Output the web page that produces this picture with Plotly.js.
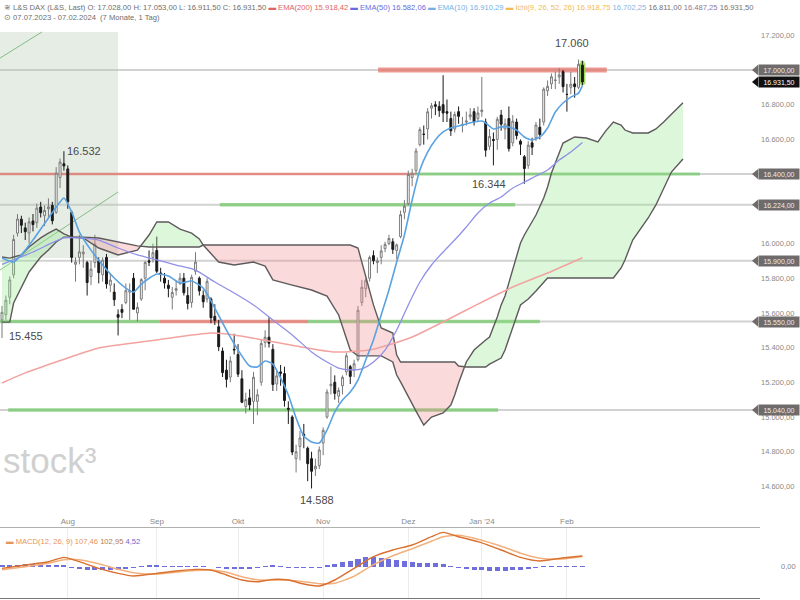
<!DOCTYPE html>
<html><head><meta charset="utf-8">
<script src="https://cdn.plot.ly/plotly-3.0.1.min.js"></script>
<style>html,body{margin:0;padding:0;background:#fff}#chart{width:800px;height:600px}</style>
</head><body><div id="chart"></div>
<script>
// ---------- DATA ----------
const monthIdx = [17, 40, 61, 83, 105, 124, 146];
const monthLabels = ['Aug', 'Sep', 'Okt', 'Nov', 'Dez', "Jan '24", 'Feb'];
const priceTicks = [14400, 14600, 14800, 15000, 15200, 15400, 15600, 15800, 16000, 16200, 16400, 16600, 16800, 17000, 17200, 17400];
const levels = [17000, 16400, 16224, 15900, 15550, 15040];

const openP = [15560,15590,15690,15820,16060,16140,16090,16060,16130,16120,
16210,16160,16200,16220,16180,16380,16460,16430,16180,15880,
15920,15940,15890,15810,15890,15900,15820,15920,15760,15720,
15590,15620,15660,15720,15800,15600,15680,15800,15900,15920,
15960,15830,15800,15760,15690,15730,15770,15800,15700,15660,
15840,15800,15700,15680,15680,15580,15520,15380,15270,15230,
15390,15360,15220,15060,15110,15090,15090,15200,15430,15460,
15390,15190,15260,15250,15050,15000,14760,14830,14900,14820,
14760,14700,14720,14850,15000,15180,15200,15120,15180,15260,
15290,15270,15330,15660,15740,15800,15930,15890,15920,15970,
16000,16010,15960,16040,16180,16230,16380,16420,16570,16630,
16660,16780,16800,16790,16800,16760,16720,16660,16760,16680,
16700,16730,16760,16720,16760,16700,16560,16600,16600,16740,
16660,16720,16580,16700,16590,16500,16450,16580,16610,16670,
16700,16880,16920,16940,16960,16990,16860,16900,16920,16900,
17028];
const highP = [15640,15700,15810,16050,16170,16160,16120,16150,16170,16230,
16240,16220,16260,16240,16440,16490,16532,16450,16190,15920,
16050,15990,15900,15900,16050,15920,15920,15940,15830,15770,
15620,15650,15770,15770,15830,15660,15800,15900,15960,16000,
16040,15860,15830,15790,15750,15790,15830,15830,15750,15820,
15950,15810,15730,15800,15690,15650,15560,15400,15330,15350,
15480,15420,15270,15140,15160,15260,15160,15450,15500,15575,
15420,15270,15300,15290,15090,15010,14840,14920,14960,14830,
14800,14760,14830,14940,15160,15290,15240,15170,15240,15370,
15300,15330,15640,15790,15800,15930,15960,15920,15990,16010,
16050,16030,16000,16190,16250,16420,16430,16550,16670,16680,
16780,16810,16820,16820,16970,16830,16760,16760,16790,16730,
16760,16780,16780,16790,16960,16720,16660,16640,16730,16770,
16720,16790,16740,16720,16600,16510,16590,16610,16700,16720,
16900,16940,16980,16990,17010,17000,16920,16990,16960,17060,
17053];
const lowP = [15455,15560,15650,15800,16040,16060,16020,16000,16070,16090,
16150,16100,16150,16110,16170,16320,16420,16200,15890,15780,
15880,15860,15700,15760,15860,15770,15780,15740,15720,15640,
15470,15570,15650,15560,15620,15550,15670,15730,15870,15890,
15830,15780,15740,15690,15620,15700,15760,15700,15620,15630,
15820,15700,15630,15660,15540,15530,15380,15230,15170,15200,
15360,15230,15080,15020,15040,14960,15010,15180,15400,15400,
15150,15150,15180,15060,14960,14780,14680,14750,14820,14630,
14588,14660,14700,14780,14990,15130,15100,15080,15130,15240,
15190,15230,15320,15640,15690,15780,15880,15830,15880,15950,
15990,15940,15910,16030,16140,16220,16330,16400,16560,16570,
16600,16720,16740,16730,16700,16700,16620,16640,16690,16640,
16680,16710,16680,16700,16730,16500,16540,16450,16540,16650,
16600,16530,16560,16600,16510,16344,16430,16510,16590,16600,
16680,16850,16890,16890,16920,16870,16760,16860,16840,16890,
16911.5];
const closeP = [15603,15673,15790,16023,16141,16105,16068,16125,16109,16204,
16177,16191,16211,16131,16406,16469,16447,16240,15920,15893,
15952,15950,15775,15852,15996,15832,15904,15767,15789,15676,
15575,15603,15728,15729,15621,15632,15792,15891,15892,15947,
15840,15825,15772,15741,15718,15740,15800,15716,15654,15805,
15893,15727,15664,15782,15572,15557,15405,15256,15217,15323,
15387,15247,15085,15100,15070,15229,15128,15424,15460,15425,
15187,15237,15252,15095,15045,14798,14800,14879,14892,14731,
14687,14716,14810,14923,15144,15189,15136,15153,15229,15353,
15234,15307,15615,15748,15786,15919,15901,15900,15957,15995,
16029,15966,15992,16166,16215,16398,16405,16533,16656,16629,
16759,16794,16791,16766,16752,16751,16650,16744,16733,16687,
16706,16742,16701,16752,16769,16538,16617,16594,16716,16688,
16689,16547,16705,16622,16572,16432,16567,16555,16683,16628,
16890,16906,16961,16942,16972,16904,16859,16918,16904,17033,
16931.5];

const ema10Idx = [0,3,5,8,12,15,16,18,20,23,26,29,32,34,36,40,43,46,49,52,55,58,61,64,66,68,70,72,74,76,78,80,82,84,86,88,90,92,94,96,98,100,102,104,106,108,110,112,114,116,118,120,122,124,125,127,129,131,133,135,137,139,141,143,145,147,149,150];
const ema10 = [15916,15893,15934,16020,16147,16239,16262,16182,16066,15962,15876,15801,15743,15720,15766,15824,15813,15772,15784,15743,15628,15501,15386,15294,15288,15323,15305,15225,15127,14994,14890,14856,14850,14925,15029,15098,15144,15213,15328,15444,15588,15732,15893,16049,16251,16424,16527,16597,16643,16666,16677,16689,16700,16706,16695,16660,16672,16672,16654,16614,16597,16614,16666,16758,16810,16844,16867,16910];

const ema50Idx = [0,8,16,20,25,30,35,40,45,50,55,60,65,70,75,80,84,87,90,93,96,99,102,105,108,111,114,117,120,123,126,129,132,135,138,141,144,147,150];
const ema50 = [15880,15951,16032,16032,16020,15974,15934,15905,15876,15847,15778,15715,15646,15559,15473,15375,15317,15282,15271,15277,15317,15386,15501,15646,15778,15876,15951,16020,16095,16176,16233,16268,16320,16354,16389,16424,16481,16527,16582];

const ema200Idx = [0,6,17,25,40,54,60,66,76,86,95,99,106,115,123,132,141,150];
const ema200 = [15196,15254,15340,15398,15444,15484,15473,15450,15409,15375,15386,15409,15461,15559,15651,15749,15830,15918];

const cloudIdx = [0,2,3,5,7,10,12,14,16,18,21,25,30,35,38,40,43,46,49,51,52,56,60,65,68,70,74,80,84,87,90,92,93,95,96,98,101,102,103,105,107,109,111,114,116,117,118,120,122,125,126,128,129,130,132,134,135,136,138,140,141,142,145,148,151,154,156,158,160,161,163,167,169,171,173,176];
const spanA = [15922,15916,15922,15934,15980,16032,16060,16083,16055,16037,16032,15974,15934,15962,16049,16124,16124,16083,16060,16026,15991,15893,15876,15893,15870,15790,15766,15732,15697,15588,15386,15352,15352,15352,15352,15352,15317,15242,15202,15115,15034,14954,15000,15023,15069,15127,15196,15317,15386,15444,15461,15576,15646,15697,15847,16003,16049,16089,16164,16262,16326,16406,16579,16614,16608,16585,16648,16700,16683,16654,16637,16637,16660,16700,16746,16811];
const spanB = [15547,15547,15657,15743,15836,15922,15962,16009,16037,16037,16037,16032,16009,15986,15980,15980,15980,15980,15980,15980,15991,15991,15991,15991,15991,15991,15991,15991,15991,15991,15991,15974,15893,15732,15646,15513,15484,15357,15317,15317,15317,15317,15317,15317,15317,15317,15294,15288,15288,15288,15305,15328,15340,15386,15519,15646,15663,15680,15726,15778,15801,15801,15801,15801,15801,15801,15801,15801,15859,15905,16020,16147,16222,16320,16412,16487];

const macdIdx = [0,6,12,16,20,25,30,34,40,45,50,54,58,62,66,70,74,78,82,86,91,96,101,106,111,114,118,123,129,134,139,144,150];
const macdLine = [-17,17,50,93,50,-17,-67,-93,-67,-43,-27,-33,-83,-133,-150,-127,-133,-173,-193,-133,-17,100,167,217,300,343,300,250,167,93,57,83,107];
const signalLine = [-30,0,35,70,70,30,-25,-60,-75,-55,-38,-33,-55,-100,-130,-135,-133,-150,-170,-165,-95,20,110,180,255,300,315,275,205,135,85,75,103];
const histIdx = [0,2,4,6,8,10,12,14,16,18,20,22,24,26,28,30,32,34,36,38,40,42,44,46,48,50,52,54,56,58,60,62,64,66,68,70,72,74,76,78,80,82,84,86,88,90,92,94,96,98,100,102,104,106,108,110,112,114,116,118,120,122,124,126,128,130,132,134,136,138,140,142,144,146,148,150];
const histVals = [15,20,22,25,25,22,20,22,18,-10,-25,-30,-35,-35,-30,-28,-22,-10,10,15,15,12,5,5,8,6,3,-5,-15,-22,-25,-25,-20,-10,10,15,8,-8,-12,-15,-15,-8,15,30,45,60,80,95,100,90,75,65,55,45,40,40,38,30,5,-15,-25,-30,-35,-42,-40,-38,-35,-30,-25,-15,5,12,10,8,6,5];

// ---------- HELPERS ----------
function de(v, dec) {
  const s = v.toFixed(dec);
  const parts = s.split('.');
  const intS = parts[0].replace(/\B(?=(\d{3})+(?!\d))/g, '.');
  return parts.length > 1 ? intS + ',' + parts[1] : intS;
}
function argmax(arr, a, b) { let k = a; for (let i = a; i <= b; i++) if (arr[i] > arr[k]) k = i; return k; }
function argmin(arr, a, b) { let k = a; for (let i = a; i <= b; i++) if (arr[i] < arr[k]) k = i; return k; }

const N = closeP.length;
const dayIdx = closeP.map((_, i) => i);
const FONT = 'Liberation Sans, Arial, sans-serif';

// tick labels hidden behind the price tags at the right
const shownTicks = priceTicks.filter(v => levels.every(l => Math.abs(v - l) >= 40));

// cloud polygons split where spans cross
function cloudPolys(xs, a, b) {
  const polys = []; let cur = null;
  for (let k = 0; k < xs.length; k++) {
    const d = a[k] - b[k]; const s = d >= 0 ? 1 : -1;
    if (!cur) { cur = {s, xs: [xs[k]], a: [a[k]], b: [b[k]]}; continue; }
    if (s === cur.s) { cur.xs.push(xs[k]); cur.a.push(a[k]); cur.b.push(b[k]); }
    else {
      const dp = a[k-1] - b[k-1];
      const t = dp / (dp - d);
      const xc = xs[k-1] + t * (xs[k] - xs[k-1]);
      const yc = a[k-1] + t * (a[k] - a[k-1]);
      cur.xs.push(xc); cur.a.push(yc); cur.b.push(yc);
      polys.push(cur);
      cur = {s, xs: [xc, xs[k]], a: [yc, a[k]], b: [yc, b[k]]};
    }
  }
  polys.push(cur);
  return polys;
}
function polyTrace(polys, sign, color) {
  const X = [], Y = [];
  polys.filter(p => p.s === sign).forEach(p => {
    X.push(...p.xs, ...p.xs.slice().reverse(), null);
    Y.push(...p.a, ...p.b.slice().reverse(), null);
  });
  return {x: X, y: Y, type: 'scatter', mode: 'lines', fill: 'toself', fillcolor: color,
          line: {width: 0}, hoverinfo: 'skip', showlegend: false, xaxis: 'x', yaxis: 'y'};
}
const polys = cloudPolys(cloudIdx, spanA, spanB);

// ---------- TRACES ----------
const traces = [];
traces.push(polyTrace(polys, 1, 'rgba(150,230,140,0.32)'));
traces.push(polyTrace(polys, -1, 'rgba(240,140,140,0.32)'));
traces.push({x: cloudIdx, y: spanA, type: 'scatter', mode: 'lines', line: {color: '#5e5a5c', width: 1.4}, hoverinfo: 'skip'});
traces.push({x: cloudIdx, y: spanB, type: 'scatter', mode: 'lines', line: {color: '#5e5a5c', width: 1.4}, hoverinfo: 'skip'});
traces.push({x: ema200Idx, y: ema200, type: 'scatter', mode: 'lines', line: {color: '#f2a3a0', width: 1.5, shape: 'spline', smoothing: 0.6}, hoverinfo: 'skip'});
traces.push({x: ema50Idx, y: ema50, type: 'scatter', mode: 'lines', line: {color: '#9090e8', width: 1.3, shape: 'spline', smoothing: 0.6}, hoverinfo: 'skip'});
// highlight of the current candle
const L = N - 1;
traces.push({type: 'candlestick', x: [dayIdx[L]], open: [openP[L]], high: [highP[L]], low: [lowP[L]], close: [closeP[L]],
  increasing: {line: {color: 'rgba(150,215,70,0.9)', width: 4}, fillcolor: 'rgba(150,215,70,0.9)'},
  decreasing: {line: {color: 'rgba(150,215,70,0.9)', width: 4}, fillcolor: 'rgba(150,215,70,0.9)'},
  whiskerwidth: 0, hoverinfo: 'skip', showlegend: false});
traces.push({type: 'candlestick', x: dayIdx, open: openP, high: highP, low: lowP, close: closeP,
  increasing: {line: {color: '#7a7a7a', width: 1}, fillcolor: '#ffffff'},
  decreasing: {line: {color: '#1a1a1a', width: 1}, fillcolor: '#1a1a1a'},
  whiskerwidth: 0, hoverinfo: 'skip', showlegend: false});
traces.push({x: ema10Idx, y: ema10, type: 'scatter', mode: 'lines', line: {color: '#5aa2e2', width: 1.6, shape: 'spline', smoothing: 0.6}, hoverinfo: 'skip'});
// MACD panel
traces.push({x: histIdx, y: histVals, type: 'bar', width: 1.3, marker: {color: 'rgba(85,85,215,0.85)'}, xaxis: 'x2', yaxis: 'y2', hoverinfo: 'skip'});
traces.push({x: macdIdx, y: signalLine, type: 'scatter', mode: 'lines', line: {color: '#f3b07c', width: 1.5, shape: 'spline', smoothing: 0.6}, xaxis: 'x2', yaxis: 'y2', hoverinfo: 'skip'});
traces.push({x: macdIdx, y: macdLine, type: 'scatter', mode: 'lines', line: {color: '#d9702e', width: 1.4, shape: 'spline', smoothing: 0.6}, xaxis: 'x2', yaxis: 'y2', hoverinfo: 'skip'});

// ---------- SHAPES ----------
const RED = 'rgba(228,112,102,0.72)', GREEN = 'rgba(115,200,105,0.72)';
const shapes = [];
// shaded channel drawing top-left
shapes.push({type: 'rect', xref: 'x', yref: 'y', x0: -1, x1: 30, y0: 15916, y1: 17219, fillcolor: 'rgba(175,200,175,0.33)', line: {width: 0}, layer: 'below'});
shapes.push({type: 'line', xref: 'x', yref: 'y', x0: -1, y0: 15840, x1: 30, y1: 16297, line: {color: 'rgba(110,175,110,0.8)', width: 1}, layer: 'below'});
shapes.push({type: 'line', xref: 'x', yref: 'y', x0: -1, y0: 17062, x1: 10.3, y1: 17219, line: {color: 'rgba(110,175,110,0.8)', width: 1}, layer: 'below'});
levels.forEach(v => shapes.push({type: 'line', xref: 'paper', yref: 'y', x0: 0, x1: 1, y0: v, y1: v, line: {color: '#d2d2d2', width: 2}, layer: 'below'}));
const segs = [
  [levels[0], 97.2, 156.3, RED, 5],
  [levels[1], -1, 106.7, RED, 2.5],
  [levels[1], 106.7, 180.4, GREEN, 3],
  [levels[2], 56.3, 132.6, GREEN, 3.5],
  [levels[4], -1, 40.8, GREEN, 3.5],
  [levels[4], 40.8, 79.1, RED, 3.5],
  [levels[4], 79.1, 139, GREEN, 3.5],
  [levels[5], 1.6, 128.2, GREEN, 3.5]
];
segs.forEach(s => shapes.push({type: 'line', xref: 'x', yref: 'y', x0: s[1], x1: s[2], y0: s[0], y1: s[0], line: {color: s[3], width: s[4]}, layer: 'below'}));
// price tags at right
const tagTri = (v, col) => ({type: 'path', xref: 'paper', yref: 'y',
  path: `M 0.9895 ${v} L 0.9975 ${v + 30} L 0.9975 ${v - 30} Z`, fillcolor: col, line: {width: 0}});
levels.forEach(v => shapes.push(tagTri(v, '#6f6b6b')));
shapes.push(tagTri(closeP[L], '#111'));

// ---------- ANNOTATIONS ----------
const ann = [];
const tag = (v, bg, fg) => ({xref: 'paper', yref: 'y', x: 1, y: v, xanchor: 'left', yanchor: 'middle', xshift: -2,
  text: de(v, 2), showarrow: false, font: {family: FONT, size: 7, color: fg}, bgcolor: bg, width: 40, height: 10, borderpad: 0});
levels.forEach(v => ann.push(tag(v, '#6f6b6b', '#ececec')));
ann.push(tag(closeP[L], '#111', '#ffffff'));

const lab = (i, v, opt) => Object.assign({xref: 'x', yref: 'y', x: i, y: v, text: de(v, 0), showarrow: false,
  font: {family: FONT, size: 11, color: '#4a4a4a'}}, opt);
let k;
k = argmax(highP, 0, 30); ann.push(lab(k, highP[k], {xanchor: 'left', yanchor: 'middle', xshift: 1}));
k = argmin(lowP, 0, 10); ann.push(lab(k, lowP[k], {xanchor: 'left', yanchor: 'middle', xshift: 5, yshift: 2}));
k = argmin(lowP, 60, 100); ann.push(lab(k, lowP[k], {xanchor: 'center', yanchor: 'top', xshift: 5, yshift: -4}));
k = argmin(lowP, 125, 140); ann.push(lab(k, lowP[k], {xanchor: 'right', yanchor: 'middle', xshift: -16}));
k = argmax(highP, 140, N - 1); ann.push(lab(k, highP[k], {xanchor: 'center', yanchor: 'bottom', xshift: -7, yshift: 9}));

const sp = (c, t) => `<span style="color:${c}">${t}</span>`;
const header1 = sp('#6e6e6e', '≋ L&amp;S DAX (L&amp;S, Last) O: 17.028,00 H: 17.053,00 L: 16.911,50 C: 16.931,50') + ' ' +
  sp('#e06262', '▬ EMA(200) 15.918,42') + ' ' + sp('#6a6ae0', '▬ EMA(50) 16.582,06') + ' ' +
  sp('#78aee6', '▬ EMA(10) 16.910,29') + ' ' + sp('#f0bb55', '▬ Ichi(9, 26, 52, 26) 16.918,75') + ' ' +
  sp('#82b6e6', '16.702,25') + ' ' + sp('#707070', '16.811,00') + ' ' + sp('#8a7896', '16.487,25') + ' ' + sp('#707070', '16.931,50');
ann.push({xref: 'paper', yref: 'paper', x: 0, y: 1, xanchor: 'left', yanchor: 'top', xshift: 2, yshift: -1, showarrow: false,
  text: header1, font: {family: FONT, size: 7.6, color: '#6e6e6e'}});
ann.push({xref: 'paper', yref: 'paper', x: 0, y: 1, xanchor: 'left', yanchor: 'top', xshift: 2, yshift: -11, showarrow: false,
  text: '⊙ 07.07.2023 - 07.02.2024  (7 Monate, 1 Tag)', font: {family: FONT, size: 7.6, color: '#6e6e6e'}});
ann.push({xref: 'paper', yref: 'paper', x: 0, y: 1 - 541 / 598, xanchor: 'left', yanchor: 'middle', xshift: 4, showarrow: false,
  text: sp('#e8935a', '▬ MACD(12, 26, 9) 107,46') + ' ' + sp('#b77a4a', '102,95') + ' ' + sp('#6a6ad0', '4,52'),
  font: {family: FONT, size: 7.6}});
ann.push({xref: 'paper', yref: 'y2', x: 1.05, y: 0, xanchor: 'right', yanchor: 'middle', showarrow: false,
  text: '0,00', font: {family: FONT, size: 7.5, color: '#888'}});
ann.push({xref: 'paper', yref: 'paper', x: 0, y: 1 - 482 / 598, xanchor: 'left', yanchor: 'bottom', xshift: 1, showarrow: false,
  text: 'stock³', font: {family: 'Liberation Sans, Arial, sans-serif', size: 35, color: '#d0d0d0'}});

// ---------- LAYOUT ----------
const xr = [-0.52, 195.9];
const layout = {
  width: 800, height: 600, margin: {l: 0, r: 40, t: 0, b: 2}, paper_bgcolor: '#fff', plot_bgcolor: '#fff',
  showlegend: false, hovermode: false, dragmode: false,
  xaxis: {domain: [0, 1], range: xr, anchor: 'y', tickvals: monthIdx, ticktext: monthLabels, ticklabelposition: 'inside',
    tickfont: {family: FONT, size: 8, color: '#8a8a8a'}, ticks: 'outside', ticklen: 3, tickcolor: '#bbb',
    showline: true, linecolor: '#b0b0b0', linewidth: 1, showgrid: false, zeroline: false, rangeslider: {visible: false}, automargin: false},
  yaxis: {domain: [1 - 527 / 598, 1], range: [14365.9, 17403.5], side: 'right', tickvals: shownTicks, ticktext: shownTicks.map(v => de(v, 2)),
    tickfont: {family: FONT, size: 7.5, color: '#8a8a8a'}, showgrid: false, zeroline: false, showline: false, ticks: '', automargin: false, fixedrange: true},
  xaxis2: {domain: [0, 1], range: xr, anchor: 'y2', tickvals: monthIdx, showticklabels: false, showgrid: true, gridcolor: '#ececec',
    showline: true, linecolor: '#777', zeroline: false, ticks: '', automargin: false},
  yaxis2: {domain: [0, 70 / 598], range: [-313, 387], side: 'right', showticklabels: false, showgrid: false, zeroline: false, automargin: false},
  shapes: shapes, annotations: ann, bargap: 0
};
Plotly.newPlot('chart', traces, layout, {displayModeBar: false, staticPlot: true});
</script></body></html>
